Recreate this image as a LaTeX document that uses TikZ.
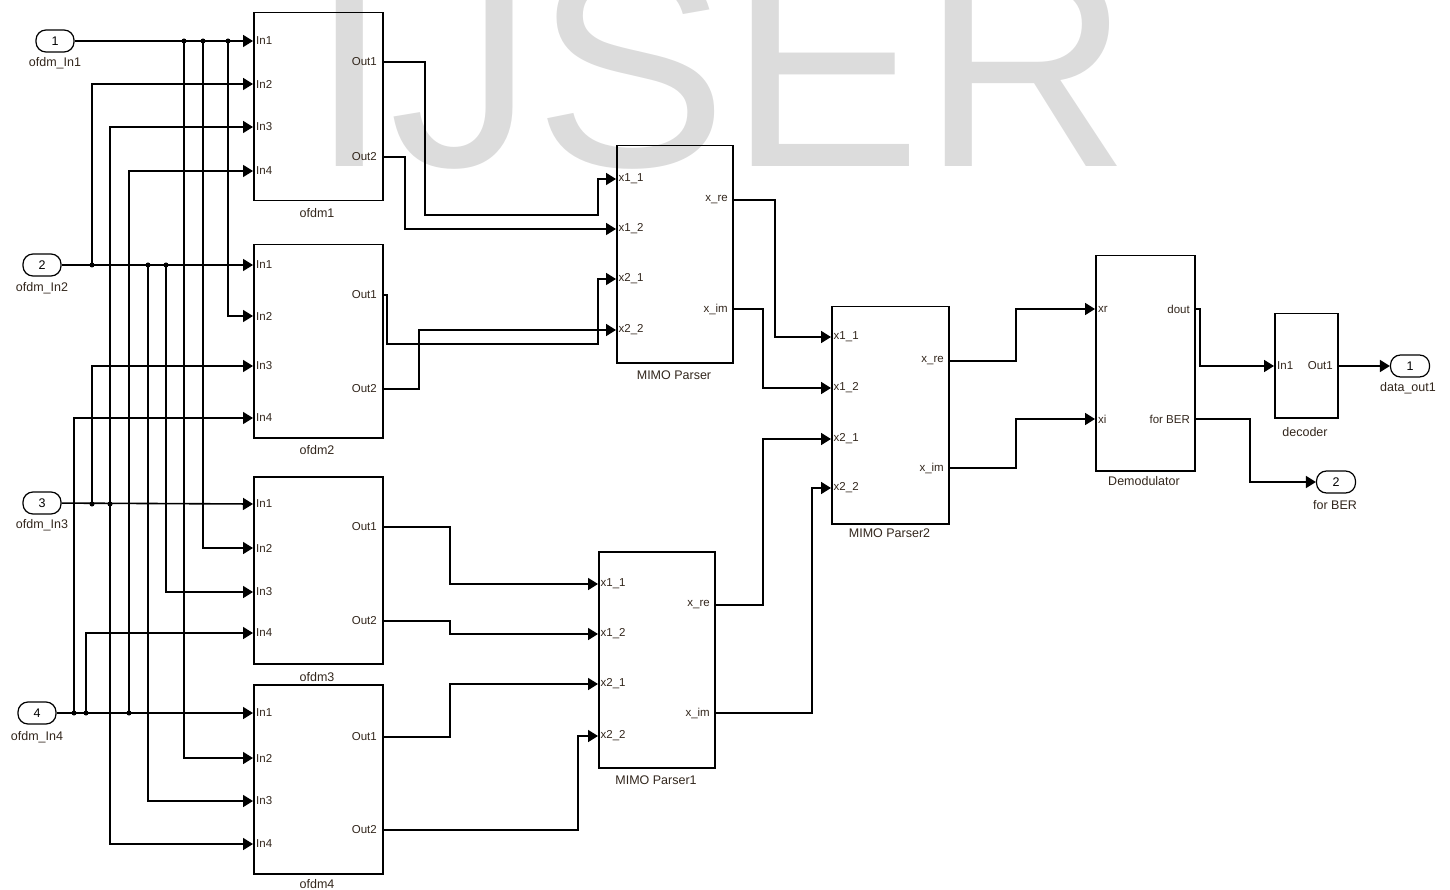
\documentclass[tikz,border=0pt]{standalone}
\usepackage{fontspec}
\setmainfont{Liberation Sans}
\usetikzlibrary{arrows.meta}
\definecolor{txt}{RGB}{50,38,28}
\definecolor{wm}{RGB}{220,220,220}
\begin{document}
\begin{tikzpicture}[x=1pt,y=-1pt,
  sig/.style={line width=1.6pt},
  arr/.style={sig,-{Triangle[length=10pt,width=12pt]}},
  blk/.style={draw,line width=1.5pt,anchor=north west,inner sep=0},
  plbl/.style={font=\fontsize{11.5}{13}\selectfont,text=txt,inner sep=0},
  blbl/.style={font=\fontsize{12.5}{14}\selectfont,text=txt,inner sep=0},
  port/.style={draw,line width=1.2pt,rounded corners=10pt,minimum width=38pt,minimum height=22pt,inner sep=0,font=\fontsize{12.5}{14}\selectfont},
  dot/.style={circle,fill,inner sep=0,minimum size=5pt}]
\useasboundingbox (0,0) rectangle (1450,890);
% watermark
\node[font=\fontsize{290}{290}\selectfont,text=wm,anchor=base west,inner sep=0] (wmk) at (309,167) {IJSER};

% ---------- inports ----------
\node[port] (i1) at (55,41) {1};
\node[blbl] (i1l) at (55,63) {ofdm\_In1};
\node[port] (i2) at (42,265) {2};
\node[blbl] (i2l) at (42,288) {ofdm\_In2};
\node[port] (i3) at (42,503) {3};
\node[blbl] (i3l) at (42,525) {ofdm\_In3};
\node[port] (i4) at (37,713) {4};
\node[blbl] (i4l) at (37,737) {ofdm\_In4};

% ---------- ofdm blocks ----------
\foreach \n/\t/\top/\h/\a/\b/\c/\d/\e/\f/\ly in {
  o1/ofdm1/12/188/41/84/127/171/62/157/213,
  o2/ofdm2/244/193/265/316/366/418/295/389/450,
  o3/ofdm3/476/187/504/548/592/633/527/621/677,
  o4/ofdm4/684/189/713/758/801/844/737/830/884}{
  \node[blk,minimum width=129pt,minimum height=\h pt] (\n) at (253,\top) {};
  \node[blbl] (\n-lbl) at (317,\ly) {\t};
  \coordinate (\n-i1) at (253,\a);
  \coordinate (\n-i2) at (253,\b);
  \coordinate (\n-i3) at (253,\c);
  \coordinate (\n-i4) at (253,\d);
  \coordinate (\n-o1) at (382,\e);
  \coordinate (\n-o2) at (382,\f);
  \node[plbl,anchor=west] at (256,\a) {In1};
  \node[plbl,anchor=west] at (256,\b) {In2};
  \node[plbl,anchor=west] at (256,\c) {In3};
  \node[plbl,anchor=west] at (256,\d) {In4};
  \node[plbl,anchor=east] at (377,\e) {Out1};
  \node[plbl,anchor=east] at (377,\f) {Out2};
}

% ---------- MIMO parsers ----------
\foreach \n/\t/\lx/\rx/\top/\h/\a/\b/\c/\d/\e/\f/\ly in {
  mp/MIMO Parser/616/732/145/217/179/229/279/330/200/309/375,
  mq/MIMO Parser1/598/714/551/216/584/634/684/736/605/713/780,
  mr/MIMO Parser2/831/948/306/217/337/388/439/488/361/468/533}{
  \pgfmathsetmacro{\w}{\rx-\lx}
  \pgfmathsetmacro{\cx}{(\rx+\lx)/2}
  \node[blk,minimum width=\w pt,minimum height=\h pt] (\n) at (\lx,\top) {};
  \node[blbl] (\n-lbl) at (\cx,\ly) {\t};
  \coordinate (\n-i1) at (\lx,\a);
  \coordinate (\n-i2) at (\lx,\b);
  \coordinate (\n-i3) at (\lx,\c);
  \coordinate (\n-i4) at (\lx,\d);
  \coordinate (\n-o1) at (\rx,\e);
  \coordinate (\n-o2) at (\rx,\f);
  \node[plbl,anchor=west] at ([xshift=2.5pt]\n-i1) {x1\_1};
  \node[plbl,anchor=west] at ([xshift=2.5pt]\n-i2) {x1\_2};
  \node[plbl,anchor=west] at ([xshift=2.5pt]\n-i3) {x2\_1};
  \node[plbl,anchor=west] at ([xshift=2.5pt]\n-i4) {x2\_2};
  \node[plbl,anchor=east] at ([xshift=-4pt]\n-o1) {x\_re};
  \node[plbl,anchor=east] at ([xshift=-4pt]\n-o2) {x\_im};
}

% ---------- demodulator ----------
\node[blk,minimum width=99pt,minimum height=215pt] (dm) at (1095,255) {};
\node[blbl] (dm-lbl) at (1144,481) {Demodulator};
\coordinate (dm-i1) at (1095,309);
\coordinate (dm-i2) at (1095,419);
\coordinate (dm-o1) at (1194,309);
\coordinate (dm-o2) at (1194,419);
\node[plbl,anchor=west] at (1098,309) {xr};
\node[plbl,anchor=west] at (1098,419) {xi};
\node[plbl,anchor=east] at (1190,309) {dout};
\node[plbl,anchor=east] at (1190,419) {for BER};

% ---------- decoder ----------
\node[blk,minimum width=63pt,minimum height=104pt] (dc) at (1274,313) {};
\node[blbl] (dc-lbl) at (1305,432) {decoder};
\coordinate (dc-i1) at (1274,366);
\coordinate (dc-o1) at (1337,366);
\node[plbl,anchor=west] at (1277,366) {In1};
\node[plbl,anchor=east] at (1333,366) {Out1};

% ---------- outports ----------
\node[port,minimum width=39pt] (op1) at (1410,366) {1};
\node[blbl] (op1l) at (1408,388) {data\_out1};
\node[port,minimum width=39pt] (op2) at (1336,482) {2};
\node[blbl] (op2l) at (1335,505) {for BER};

% ---------- inport wiring ----------
\draw[arr] (i1) -- (o1-i1);
\draw[arr] (i2) -- (o2-i1);
\draw[arr] (i3) -- (o3-i1);
\draw[arr] (i4) -- (o4-i1);

\node[dot] (j1a) at (184,41) {};
\node[dot] (j1b) at (203,41) {};
\node[dot] (j1c) at (228,41) {};
\node[dot] (j2a) at (92,265) {};
\node[dot] (j2b) at (148,265) {};
\node[dot] (j2c) at (166,265) {};
\node[dot] (j3a) at (92,504) {};
\node[dot] (j3b) at (110,504) {};
\node[dot] (j4a) at (74,713) {};
\node[dot] (j4b) at (86,713) {};
\node[dot] (j4c) at (129,713) {};

\draw[arr] (j1a.center) |- (o4-i2);
\draw[arr] (j1b.center) |- (o3-i2);
\draw[arr] (j1c.center) |- (o2-i2);
\draw[arr] (j2a.center) |- (o1-i2);
\draw[arr] (j2b.center) |- (o4-i3);
\draw[arr] (j2c.center) |- (o3-i3);
\draw[arr] (j3a.center) |- (o2-i3);
\draw[arr] (j3b.center) |- (o1-i3);
\draw[arr] (j3b.center) |- (o4-i4);
\draw[arr] (j4a.center) |- (o2-i4);
\draw[arr] (j4b.center) |- (o3-i4);
\draw[arr] (j4c.center) |- (o1-i4);

% ---------- ofdm -> parsers ----------
\draw[arr] (o1-o1) -| (425,215) -| (598,179) -- (mp-i1);
\draw[arr] (o1-o2) -| (405,229) -- (mp-i2);
\draw[arr] (o2-o1) -| (387,344) -| (598,279) -- (mp-i3);
\draw[arr] (o2-o2) -| (419,330) -- (mp-i4);
\draw[arr] (o3-o1) -| (450,584) -- (mq-i1);
\draw[arr] (o3-o2) -| (450,634) -- (mq-i2);
\draw[arr] (o4-o1) -| (450,684) -- (mq-i3);
\draw[arr] (o4-o2) -| (578,736) -- (mq-i4);

% ---------- parsers -> parser2 ----------
\draw[arr] (mp-o1) -| (775,337) -- (mr-i1);
\draw[arr] (mp-o2) -| (763,388) -- (mr-i2);
\draw[arr] (mq-o1) -| (763,439) -- (mr-i3);
\draw[arr] (mq-o2) -| (812,488) -- (mr-i4);

% ---------- parser2 -> demodulator -> decoder ----------
\draw[arr] (mr-o1) -| (1016,309) -- (dm-i1);
\draw[arr] (mr-o2) -| (1016,419) -- (dm-i2);
\draw[arr] (dm-o1) -| (1200,366) -- (dc-i1);
\draw[arr] (dc-o1) -- (op1);
\draw[arr] (dm-o2) -| (1250,482) -- (op2);
\end{tikzpicture}
\end{document}
